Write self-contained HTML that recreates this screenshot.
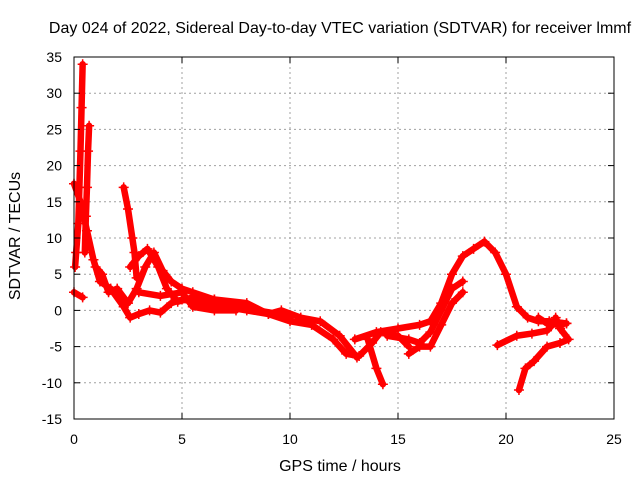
<!DOCTYPE html>
<html><head><meta charset="utf-8"><style>
body{margin:0;background:#fff}
svg text{font-family:"Liberation Sans",sans-serif;font-size:14px;fill:#000}
svg text.big{font-size:16px}
</style></head><body>
<svg width="640" height="480" xmlns="http://www.w3.org/2000/svg">
<text class="big" x="340" y="33" text-anchor="middle">Day 024 of 2022, Sidereal Day-to-day VTEC variation (SDTVAR) for receiver lmmf</text>
<text class="big" x="340" y="471" text-anchor="middle">GPS time / hours</text>
<text class="big" transform="translate(20,236) rotate(-90)" text-anchor="middle">SDTVAR / TECUs</text>
<g id="grid"></g><g id="data"></g><g id="axes"></g>
</svg>
<script>
const xTicks=[0,5,10,15,20,25];
const yTicks=[-15,-10,-5,0,5,10,15,20,25,30,35];
const t1=[[0.05,6],[0.1,8],[0.2,12],[0.25,17],[0.3,22],[0.35,28],[0.4,34]];
const t2=[[0.5,8],[0.55,13],[0.6,17],[0.65,22],[0.7,25.5]];
const t3=[[0,17.5],[0.3,15],[0.6,11],[0.9,7],[1.2,4],[1.7,3],[2.3,0.5],[2.6,-1],[3,-0.5],[3.5,0],[4,-0.3],[4.5,1],[5,1.5],[6,1],[7,0.5],[8,0],[9,-0.5],[9.6,0],[10.5,-1],[11.4,-1.5],[12.3,-3.5],[13.1,-6.5]];
const t4=[[1,6],[1.3,5],[1.6,2.5],[2,3],[2.5,1],[2.9,3],[3.3,6],[3.7,8],[4.1,5.5],[4.5,4],[5,3],[5.5,2.5],[6.5,1.5],[8,1],[9,-0.5],[10,-1.5],[11,-2],[12,-4],[12.6,-6],[13.2,-6.3],[13.8,-4.5],[14.2,-3],[15,-3.5],[15.5,-5]];
const t5=[[2.3,17],[2.5,14],[2.7,10],[2.8,8],[2.9,4.5]];
const t6=[[2.6,6],[3.0,7.5],[3.4,8.5],[3.9,6],[4.3,3],[4.8,1.2],[5.5,1.8],[6.5,1.5],[7.5,0.8],[8.5,0],[9.5,-0.5],[10,-1]];
const t7=[[3,2.5],[4,2],[5,2.5],[5.5,0.5],[6.5,0],[7.5,0]];
const t8=[[0,2.5],[0.4,1.8]];
const t9=[[13.6,-4],[14,-8],[14.3,-10.2]];
const t10=[[13,-4],[14,-3],[15,-2.5],[16,-2],[16.5,-1.5],[17,1],[17.5,5],[18,7.5],[18.5,8.5],[19,9.5],[19.5,8],[20,5],[20.5,0.5],[21,-1],[21.5,-1.5],[22,-1.5],[22.8,-1.8]];
const t11=[[14.5,-3.5],[15.5,-4],[16,-4.5],[16.5,-3],[17,0],[17.5,3],[18,4]];
const t12=[[15.5,-6],[16,-5],[16.5,-5],[17,-2],[17.5,1],[18,2.5]];
const t13=[[19.6,-4.8],[20.5,-3.5],[21.2,-3.2],[21.9,-2.8],[22.3,-1.5],[22.6,-2]];
const t14=[[20.6,-11],[20.9,-8],[21.3,-7],[21.9,-5],[22.5,-4.5],[22.9,-4],[22.5,-2.5],[22.3,-1]];
const t15=[[21.5,-1],[22,-2],[22.8,-1.8]];
const tracks=[t1,t2,t3,t4,t5,t6,t7,t8,t9,t10,t11,t12,t13,t14,t15];
const X0=74,X1=614,Y0=419,Y1=57;
const sx=v=>X0+(v-0)/(25-0)*(X1-X0);
const sy=v=>Y0-(v+15)/(50)*(Y0-Y1);
const NS="http://www.w3.org/2000/svg";
function mk(tag,attrs,parent){const e=document.createElementNS(NS,tag);for(const k in attrs)e.setAttribute(k,attrs[k]);parent.appendChild(e);return e;}
const grid=document.getElementById('grid'),axes=document.getElementById('axes'),data=document.getElementById('data');
xTicks.forEach(v=>{const x=sx(v);
 if(v>0&&v<25){const g=mk('line',{x1:x,x2:x,y1:Y1,y2:Y0,stroke:'#a0a0a0','stroke-dasharray':'2,3'},grid);
 
 }
 mk('line',{x1:x,x2:x,y1:Y0,y2:Y0-6,stroke:'#000'},axes);mk('line',{x1:x,x2:x,y1:Y1,y2:Y1+6,stroke:'#000'},axes);
 const t=mk('text',{x:x,y:Y0+25,'text-anchor':'middle'},axes);t.textContent=v;
 
 });
yTicks.forEach(v=>{const y=sy(v);
 if(v>-15&&v<35){const g=mk('line',{x1:X0,x2:X1,y1:y,y2:y,stroke:'#a0a0a0','stroke-dasharray':'2,3'},grid);
 
 }
 mk('line',{x1:X0,x2:X0+6,y1:y,y2:y,stroke:'#000'},axes);mk('line',{x1:X1,x2:X1-6,y1:y,y2:y,stroke:'#000'},axes);
 const t=mk('text',{x:X0-12,y:y+5,'text-anchor':'end'},axes);t.textContent=v;
 
 });
const fr=mk('rect',{x:X0,y:Y1,width:X1-X0,height:Y0-Y1,fill:'none',stroke:'#000'},axes);


tracks.forEach((tr,i)=>{
 const p=mk('polyline',{points:tr.map(d=>sx(d[0])+','+sy(d[1])).join(' '),fill:'none',stroke:'#f00','stroke-width':6.5,'stroke-linejoin':'round','stroke-linecap':'round'},data);
 
 
 tr.forEach(d=>{const x=sx(d[0]),y=sy(d[1]);
  const m=mk('path',{d:`M${x-5},${y}H${x+5}M${x},${y-5}V${y+5}`,stroke:'#f00','stroke-width':1.5},data);
  
  });
});
</script>
</body></html>
